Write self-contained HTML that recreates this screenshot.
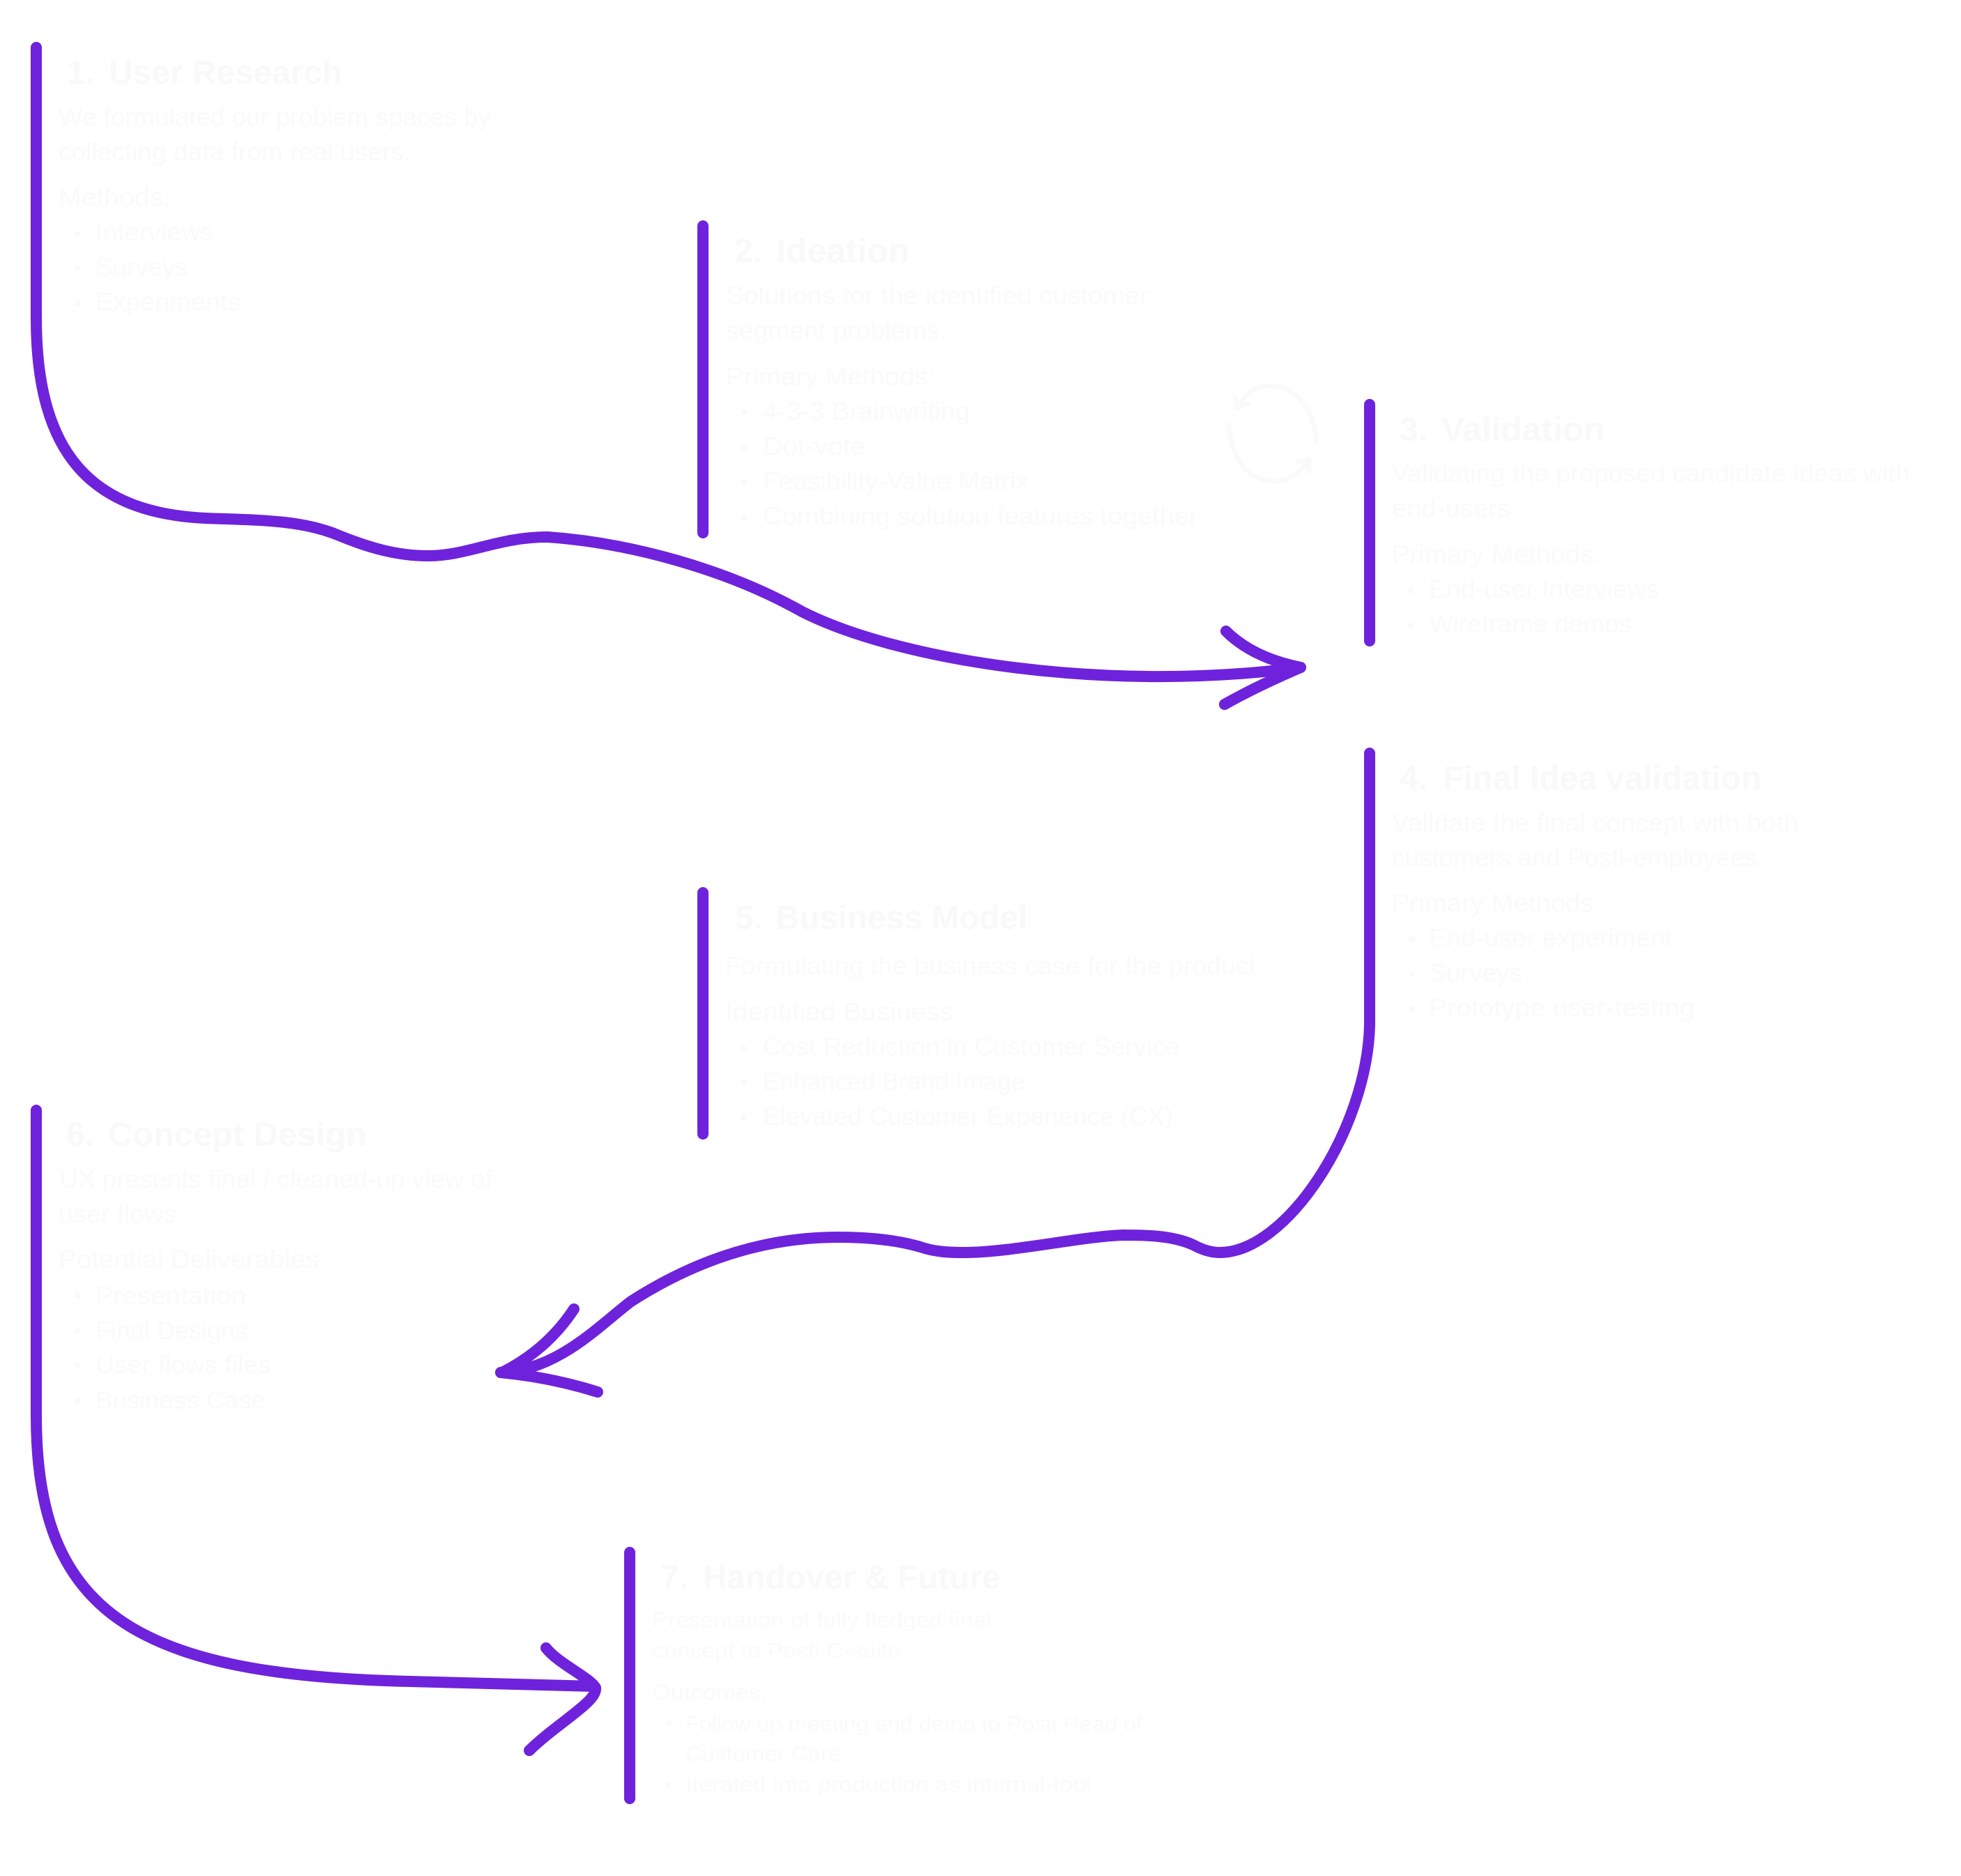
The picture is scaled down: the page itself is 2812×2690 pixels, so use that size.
<!DOCTYPE html>
<html lang="en">
<head>
<meta charset="utf-8">
<title>Process diagram</title>
<style>
html,body{margin:0;padding:0;background:#fff;}
svg{display:block;}
text{font-family:"Liberation Sans",sans-serif;fill:#fafafa;}
.t{font-size:48px;font-weight:700;fill:#f9f9f9;}
.b{font-size:36px;}
.s{font-size:31px;}
.p{fill:none;stroke:#6f22dc;stroke-width:16;stroke-linecap:round;stroke-linejoin:round;}
.i{fill:none;stroke:#fafafa;stroke-width:7;stroke-linecap:round;stroke-linejoin:round;}
circle{fill:#fafafa;}
</style>
</head>
<body>
<svg width="2812" height="2690" viewBox="0 0 2812 2690" xmlns="http://www.w3.org/2000/svg">
<rect width="2812" height="2690" fill="#fff"/>

<!-- Section 1 -->
<text class="t" x="96" y="120" textLength="40" lengthAdjust="spacingAndGlyphs">1.</text>
<text class="t" x="156" y="120" textLength="335" lengthAdjust="spacingAndGlyphs">User Research</text>
<text class="b" x="84" y="180" textLength="620" lengthAdjust="spacingAndGlyphs">We formulated our problem spaces by</text>
<text class="b" x="84" y="230" textLength="505" lengthAdjust="spacingAndGlyphs">collecting data from real users.</text>
<text class="b" x="84" y="295" textLength="161" lengthAdjust="spacingAndGlyphs">Methods:</text>
<circle cx="111" cy="335" r="4.5"/><text class="b" x="137" y="345" textLength="169" lengthAdjust="spacingAndGlyphs">Interviews</text>
<circle cx="111" cy="385" r="4.5"/><text class="b" x="137" y="395" textLength="132" lengthAdjust="spacingAndGlyphs">Surveys</text>
<circle cx="111" cy="435" r="4.5"/><text class="b" x="137" y="445" textLength="208" lengthAdjust="spacingAndGlyphs">Experiments</text>

<!-- Section 2 -->
<text class="t" x="1053" y="376" textLength="40" lengthAdjust="spacingAndGlyphs">2.</text>
<text class="t" x="1113" y="376" textLength="191" lengthAdjust="spacingAndGlyphs">Ideation</text>
<text class="b" x="1041" y="436" textLength="606" lengthAdjust="spacingAndGlyphs">Solutions for the identified customer</text>
<text class="b" x="1041" y="486" textLength="317" lengthAdjust="spacingAndGlyphs">segment problems.</text>
<text class="b" x="1041" y="552" textLength="300" lengthAdjust="spacingAndGlyphs">Primary Methods:</text>
<circle cx="1067" cy="592" r="4.5"/><text class="b" x="1094" y="602" textLength="297" lengthAdjust="spacingAndGlyphs">4-3-3 Brainwriting</text>
<circle cx="1067" cy="642" r="4.5"/><text class="b" x="1094" y="652" textLength="147" lengthAdjust="spacingAndGlyphs">Dot-vote</text>
<circle cx="1067" cy="692" r="4.5"/><text class="b" x="1094" y="702" textLength="381" lengthAdjust="spacingAndGlyphs">Feasibility-Value Matrix</text>
<circle cx="1067" cy="742" r="4.5"/><text class="b" x="1094" y="752" textLength="624" lengthAdjust="spacingAndGlyphs">Combining solution features together</text>

<!-- Section 3 -->
<text class="t" x="2007" y="632" textLength="40" lengthAdjust="spacingAndGlyphs">3.</text>
<text class="t" x="2067" y="632" textLength="234" lengthAdjust="spacingAndGlyphs">Validation</text>
<text class="b" x="1996" y="691" textLength="743" lengthAdjust="spacingAndGlyphs">Validating the proposed candidate ideas with</text>
<text class="b" x="1996" y="741" textLength="170" lengthAdjust="spacingAndGlyphs">end-users</text>
<text class="b" x="1996" y="807" textLength="300" lengthAdjust="spacingAndGlyphs">Primary Methods:</text>
<circle cx="2023" cy="847" r="4.5"/><text class="b" x="2049" y="857" textLength="330" lengthAdjust="spacingAndGlyphs">End-user Interviews</text>
<circle cx="2023" cy="897" r="4.5"/><text class="b" x="2049" y="907" textLength="291" lengthAdjust="spacingAndGlyphs">Wireframe demos</text>

<!-- Section 4 -->
<text class="t" x="2007" y="1132" textLength="40" lengthAdjust="spacingAndGlyphs">4.</text>
<text class="t" x="2069" y="1132" textLength="457" lengthAdjust="spacingAndGlyphs">Final Idea validation</text>
<text class="b" x="1996" y="1192" textLength="583" lengthAdjust="spacingAndGlyphs">Validate the final concept with both</text>
<text class="b" x="1996" y="1242" textLength="534" lengthAdjust="spacingAndGlyphs">customers and Posti-employees.</text>
<text class="b" x="1996" y="1307" textLength="300" lengthAdjust="spacingAndGlyphs">Primary Methods:</text>
<circle cx="2024" cy="1347" r="4.5"/><text class="b" x="2049" y="1357" textLength="349" lengthAdjust="spacingAndGlyphs">End-user experiment</text>
<circle cx="2024" cy="1397" r="4.5"/><text class="b" x="2049" y="1407" textLength="134" lengthAdjust="spacingAndGlyphs">Surveys</text>
<circle cx="2024" cy="1447" r="4.5"/><text class="b" x="2049" y="1457" textLength="381" lengthAdjust="spacingAndGlyphs">Prototype user-testing</text>

<!-- Section 5 -->
<text class="t" x="1054" y="1332" textLength="40" lengthAdjust="spacingAndGlyphs">5.</text>
<text class="t" x="1112" y="1332" textLength="361" lengthAdjust="spacingAndGlyphs">Business Model</text>
<text class="b" x="1040" y="1397" textLength="761" lengthAdjust="spacingAndGlyphs">Formulating the business case for the product</text>
<text class="b" x="1040" y="1463" textLength="338" lengthAdjust="spacingAndGlyphs">Identified Business:</text>
<circle cx="1066" cy="1503" r="4.5"/><text class="b" x="1094" y="1513" textLength="598" lengthAdjust="spacingAndGlyphs">Cost Reduction in Customer Service</text>
<circle cx="1066" cy="1552" r="4.5"/><text class="b" x="1094" y="1563" textLength="376" lengthAdjust="spacingAndGlyphs">Enhanced Brand Image</text>
<circle cx="1066" cy="1602" r="4.5"/><text class="b" x="1094" y="1613" textLength="588" lengthAdjust="spacingAndGlyphs">Elevated Customer Experience (CX)</text>

<!-- Section 6 -->
<text class="t" x="95" y="1643" textLength="40" lengthAdjust="spacingAndGlyphs">6.</text>
<text class="t" x="155" y="1643" textLength="371" lengthAdjust="spacingAndGlyphs">Concept Design</text>
<text class="b" x="85" y="1703" textLength="621" lengthAdjust="spacingAndGlyphs">UX presents final / cleaned-up view of</text>
<text class="b" x="84" y="1753" textLength="169" lengthAdjust="spacingAndGlyphs">user flows</text>
<text class="b" x="84" y="1818" textLength="384" lengthAdjust="spacingAndGlyphs">Potential Deliverables:</text>
<circle cx="111" cy="1858" r="4.5"/><text class="b" x="137" y="1870" textLength="216" lengthAdjust="spacingAndGlyphs">Presentation</text>
<circle cx="111" cy="1908" r="4.5"/><text class="b" x="137" y="1920" textLength="218" lengthAdjust="spacingAndGlyphs">Final Designs</text>
<circle cx="111" cy="1958" r="4.5"/><text class="b" x="137" y="1969" textLength="252" lengthAdjust="spacingAndGlyphs">User flows files</text>
<circle cx="111" cy="2008" r="4.5"/><text class="b" x="137" y="2020" textLength="244" lengthAdjust="spacingAndGlyphs">Business Case</text>

<!-- Section 7 -->
<text class="t" x="947" y="2278" textLength="40" lengthAdjust="spacingAndGlyphs">7.</text>
<text class="t" x="1008" y="2278" textLength="427" lengthAdjust="spacingAndGlyphs">Handover &amp; Future</text>
<text class="s" x="935" y="2333" textLength="487" lengthAdjust="spacingAndGlyphs">Presentation of fully fledged final</text>
<text class="s" x="935" y="2377" textLength="357" lengthAdjust="spacingAndGlyphs">concept to Posti C-suite</text>
<text class="s" x="935" y="2437" textLength="166" lengthAdjust="spacingAndGlyphs">Outcomes:</text>
<circle cx="959" cy="2471" r="4"/><text class="s" x="983" y="2482" textLength="655" lengthAdjust="spacingAndGlyphs">Follow up meeting and demo to Posti Head of</text>
<text class="s" x="983" y="2525" textLength="223" lengthAdjust="spacingAndGlyphs">Customer Care</text>
<circle cx="959" cy="2559" r="4"/><text class="s" x="983" y="2569" textLength="582" lengthAdjust="spacingAndGlyphs">Iterated into production as internal-tool</text>

<!-- Reload icon -->
<path class="i" d="M1888 635 C1886 590 1860 553 1821 553 C1800 553 1785 565 1774 585"/>
<path class="i" d="M1771 570 L1774 585 L1790 579"/>
<path class="i" d="M1762 608 C1764 650 1785 690 1828 690 C1850 690 1865 677 1877 658"/>
<path class="i" d="M1860 663 L1877 658 L1877 676"/>

<!-- Vertical bars -->
<path class="p" d="M1008 324 L1008 764"/>
<path class="p" d="M1964 580 L1964 919"/>
<path class="p" d="M1008 1280 L1008 1626"/>
<path class="p" d="M903 2226 L903 2579"/>

<!-- Connector 1 -->
<path class="p" d="M52 68 L52 456 C52 650 130 735 294 743 C370 746 430 745 484 767 C530 786 570 797 614 797 C670 797 715 770 785 770 C900 778 1040 815 1150 877 C1290 948 1590 994 1865 957"/>
<path class="p" d="M1758 905 Q1796 943 1865 957"/>
<path class="p" d="M1756 1010 Q1800 985 1865 957"/>

<!-- Connector 2 -->
<path class="p" d="M1964 1080 L1964 1470 C1960 1620 1845 1796 1749 1796 C1735 1796 1722 1791 1711 1785 C1680 1771 1640 1771 1610 1771 C1550 1773 1450 1796 1383 1796 C1360 1796 1340 1795 1320 1788 C1285 1778 1245 1774 1202 1774 C1100 1774 1000 1805 905 1866 C860 1900 800 1965 718 1968"/>
<path class="p" d="M823 1877 Q785 1935 720 1968"/>
<path class="p" d="M857 1996 Q790 1975 718 1968"/>

<!-- Connector 3 -->
<path class="p" d="M52 1592 L52 2030 C52 2310 190 2402 588 2411 L852 2418"/>
<path class="p" d="M783 2363 C800 2385 845 2405 854 2420 C857 2440 800 2470 759 2510"/>
</svg>
</body>
</html>
